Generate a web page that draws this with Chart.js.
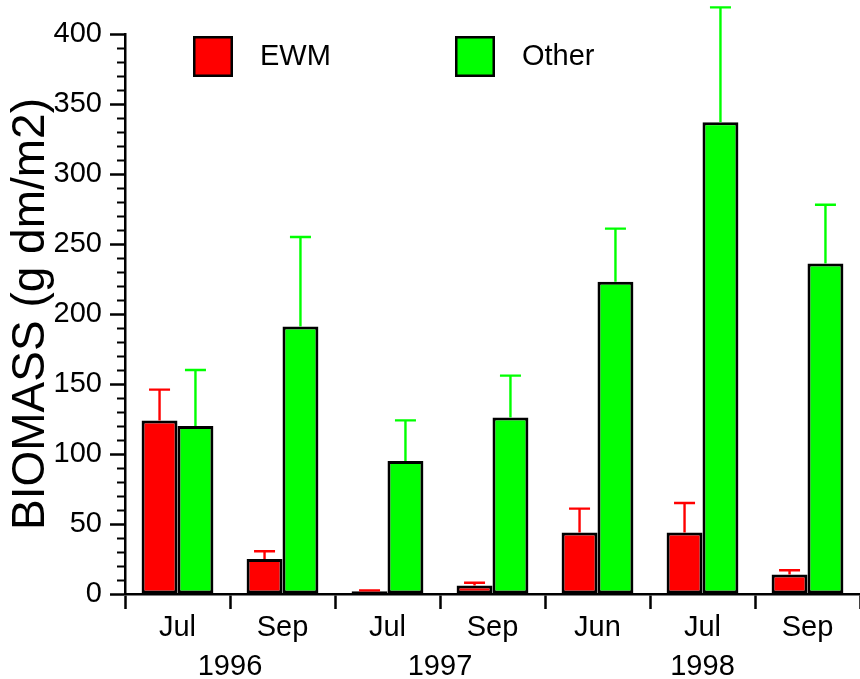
<!DOCTYPE html>
<html><head><meta charset="utf-8">
<script src="https://cdn.jsdelivr.net/npm/chart.js@4/dist/chart.umd.min.js"></script>
<style>html,body{margin:0;padding:0;background:#fff;overflow:hidden}canvas{display:block}</style>
</head><body>
<canvas id="c" width="860" height="679"></canvas>
<script>
// ---- data ----
const categories = ['Jul', 'Sep', 'Jul', 'Sep', 'Jun', 'Jul', 'Sep'];
const years = ['1996', '1997', '1998'];
const yearGroupSizes = [2, 2, 3];
const seriesNames = ['EWM', 'Other'];
const ewmValues = [124, 25, 2, 6, 44, 44, 14];
const ewmErrors = [22, 5.5, 0.6, 2, 17, 21, 3];
const otherValues = [120, 191, 95, 126, 223, 337, 236];
const otherErrors = [40, 64, 29, 30, 38, 82, 42];
const yTickValues = [0, 50, 100, 150, 200, 250, 300, 350, 400];
const yMinorStep = 10;

// ---- styling ----
const FONT = '"Liberation Sans", Arial, Helvetica, sans-serif';
const RED = '#ff0000', GREEN = '#00ff00', BLACK = '#000000';

// year label centres, in category units (category i spans i..i+1)
const yearCenters = [];
{ let start = 0; for (const n of yearGroupSizes) { yearCenters.push(start + n / 2); start += n; } }

const errorSets = [ewmErrors, otherErrors];
const valueSets = [ewmValues, otherValues];

const errorBarPlugin = {
  id: 'errorBars',
  afterDatasetsDraw(chart) {
    const ctx = chart.ctx, y = chart.scales.y;
    ctx.save();
    chart.data.datasets.forEach((ds, i) => {
      const meta = chart.getDatasetMeta(i);
      meta.data.forEach((bar, j) => {
        const topPx = y.getPixelForValue(valueSets[i][j] + errorSets[i][j]);
        ctx.strokeStyle = ds.backgroundColor;
        ctx.lineWidth = 2.4;
        ctx.beginPath();
        ctx.moveTo(bar.x, bar.y);
        ctx.lineTo(bar.x, topPx);
        ctx.moveTo(bar.x - 10.5, topPx);
        ctx.lineTo(bar.x + 10.5, topPx);
        ctx.stroke();
      });
    });
    ctx.restore();
  }
};

const minorTickPlugin = {
  id: 'minorTicks',
  afterDraw(chart) {
    const ctx = chart.ctx, y = chart.scales.y;
    const x0 = chart.chartArea.left;
    ctx.save();
    ctx.strokeStyle = BLACK;
    ctx.lineWidth = 2.2;
    ctx.beginPath();
    for (let v = y.min; v <= y.max; v += yMinorStep) {
      if (yTickValues.includes(v)) continue;
      const py = Math.round(y.getPixelForValue(v)) + 0.5;
      ctx.moveTo(x0 - 8, py);
      ctx.lineTo(x0, py);
    }
    ctx.stroke();
    ctx.restore();
  }
};

const legendPlugin = {
  id: 'insideLegend',
  afterDraw(chart) {
    const ctx = chart.ctx, a = chart.chartArea;
    const offsets = [68, 330];
    ctx.save();
    chart.data.datasets.forEach((ds, i) => {
      const bx = a.left + offsets[i], by = a.top + 2;
      ctx.fillStyle = ds.backgroundColor;
      ctx.fillRect(bx, by, 40, 41);
      ctx.strokeStyle = BLACK;
      ctx.lineWidth = 2.5;
      ctx.strokeRect(bx + 1.25, by + 1.25, 37.5, 38.5);
      ctx.fillStyle = BLACK;
      ctx.font = '29px ' + FONT;
      ctx.textAlign = 'left';
      ctx.textBaseline = 'middle';
      ctx.fillText(ds.label, bx + 67, by + 21);
    });
    ctx.restore();
  }
};

new Chart(document.getElementById('c'), {
  type: 'bar',
  data: {
    labels: categories,
    datasets: [
      { label: seriesNames[0], data: ewmValues, backgroundColor: RED },
      { label: seriesNames[1], data: otherValues, backgroundColor: GREEN }
    ]
  },
  options: {
    responsive: false,
    devicePixelRatio: 1,
    animation: false,
    layout: { padding: { top: 34, right: -2, bottom: 0, left: 0 } },
    datasets: {
      bar: {
        borderColor: BLACK,
        borderWidth: 3,
        borderSkipped: false,
        categoryPercentage: 0.684,
        barPercentage: 1.0
      }
    },
    plugins: {
      legend: { display: false },
      tooltip: { enabled: false }
    },
    scales: {
      x: {
        type: 'category',
        position: 'bottom',
        weight: 0,
        offset: true,
        grid: { display: true, offset: true, drawOnChartArea: false, drawTicks: true,
                tickLength: 15, tickColor: BLACK, tickWidth: 2.5 },
        border: { display: true, color: BLACK, width: 2.5 },
        ticks: { color: BLACK, font: { family: FONT, size: 29 }, padding: 2,
                 maxRotation: 0, autoSkip: false },
        afterFit(s) { s.height = 50; }
      },
      years: {
        type: 'linear',
        position: 'bottom',
        weight: 1,
        min: 0,
        max: categories.length,
        offset: false,
        grid: { display: false, drawTicks: false, tickLength: 0, offset: false },
        border: { display: false },
        ticks: { color: BLACK, font: { family: FONT, size: 29 }, padding: 6,
                 maxRotation: 0, autoSkip: false,
                 callback: (v, i) => years[i] },
        afterBuildTicks(s) { s.ticks = yearCenters.map(v => ({ value: v })); },
        afterFit(s) { s.height = 35; }
      },
      y: {
        type: 'linear',
        position: 'left',
        min: 0,
        max: 400,
        grid: { display: true, drawOnChartArea: false, drawTicks: true,
                tickLength: 15, tickColor: BLACK, tickWidth: 2.5 },
        border: { display: true, color: BLACK, width: 2.5 },
        ticks: { color: BLACK, font: { family: FONT, size: 29 }, padding: 8, stepSize: 50 },
        afterBuildTicks(s) { s.ticks = yTickValues.map(v => ({ value: v })); },
        title: { display: true, text: 'BIOMASS (g dm/m2)', color: BLACK,
                 font: { family: FONT, size: 46 }, padding: { top: 4, bottom: 0 } },
        afterFit(s) { s.width = 125; }
      }
    }
  },
  plugins: [errorBarPlugin, minorTickPlugin, legendPlugin]
});
</script>
</body></html>
